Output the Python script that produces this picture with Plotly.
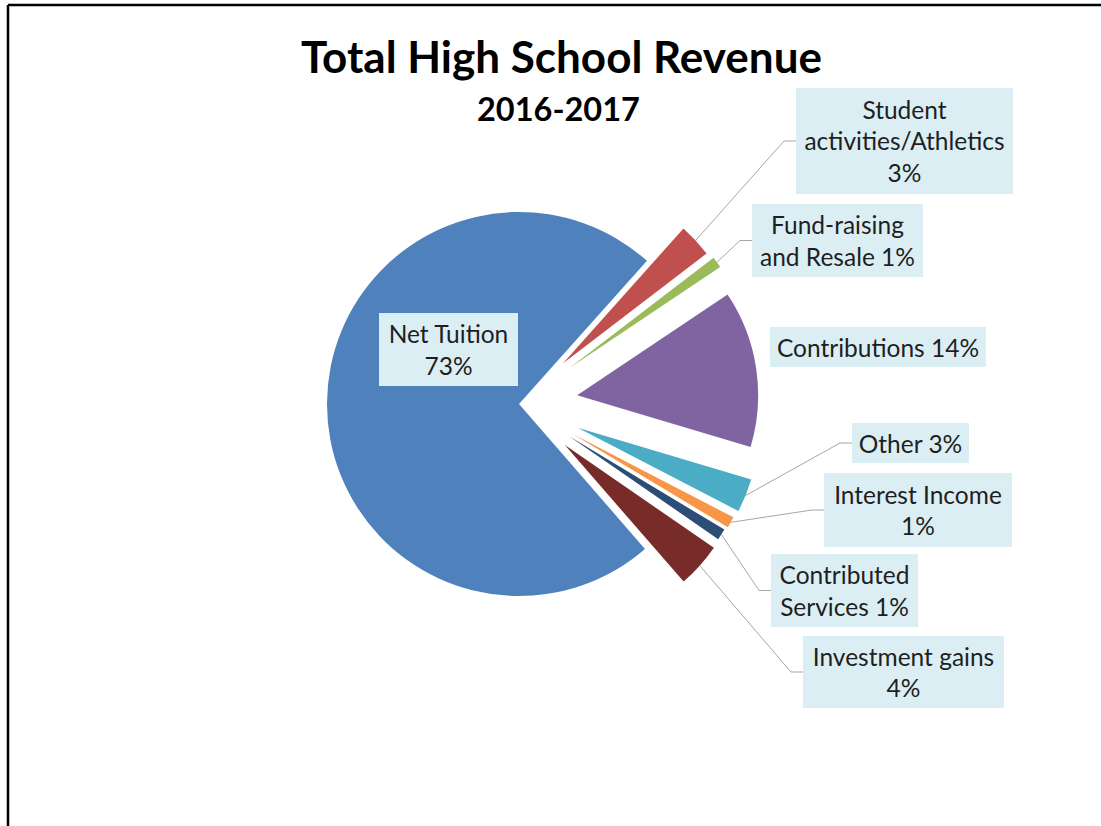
import math
import plotly.graph_objects as go

# Revenue sources, in the order the slices are laid out (clockwise)
categories = [
    "Net Tuition",
    "Student activities/Athletics",
    "Fund-raising and Resale",
    "Contributions",
    "Other",
    "Interest Income",
    "Contributed Services",
    "Investment gains",
]
percent = [73, 3, 1, 14, 3, 1, 1, 4]

# How each category name is broken across lines in its label box
label_names = [
    "Net Tuition",
    "Student<br>activities/Athletics",
    "Fund-raising<br>and Resale",
    "Contributions",
    "Other",
    "Interest Income",
    "Contributed<br>Services",
    "Investment gains",
]
label_value_sep = ["<br>", "<br>", " ", " ", " ", "<br>", " ", "<br>"]

colors = ["#4F81BD", "#C0504D", "#9BBB59", "#8064A2",
          "#4BACC6", "#F79646", "#2C4D75", "#772C2A"]
pulls = [0, 0.33, 0.345, 0.325, 0.35, 0.34, 0.33, 0.34]

# Label boxes: centre (px) and size (px); leader line drawn where wanted
label_boxes = [
    (448.5, 349.5, 139, 73, False),
    (904.5, 141.0, 217, 106, True),
    (837.5, 240.5, 171, 73, True),
    (878.0, 347.0, 216, 40, False),
    (910.5, 443.0, 117, 40, True),
    (918.0, 510.0, 188, 74, True),
    (844.5, 590.5, 147, 73, True),
    (903.5, 672.0, 201, 72, True),
]

W, H = 1101, 826
CX, CY = 519.0, 404.0          # pie centre in pixels
R_MAIN = 192.0                 # radius of the main slice
R_EXPL = 181.0                 # radius of the exploded slices
ROTATION = 139.0               # start angle of the first slice, clockwise from 12 o'clock

BOX_COLOR = "#DBEEF4"
TEXT_COLOR = "#1F1F1F"
LINE_COLOR = "#A6A6A6"
FONT = "Lato"


def px(x):
    return x / W


def py(y):
    return 1 - y / H


def pie_domain(r, max_pull):
    half = r * (1 + max_pull)
    return dict(x=[px(CX - half), px(CX + half)],
                y=[py(CY + half), py(CY - half)])


transparent = "rgba(0,0,0,0)"
main_colors = [colors[0]] + [transparent] * (len(colors) - 1)
expl_colors = [transparent] + colors[1:]

fig = go.Figure()
fig.add_trace(go.Pie(
    labels=categories, values=percent, sort=False, direction="clockwise",
    rotation=ROTATION, textinfo="none", hoverinfo="label+percent",
    marker=dict(colors=main_colors, line=dict(width=0)),
    domain=pie_domain(R_MAIN, 0), showlegend=False,
))
fig.add_trace(go.Pie(
    labels=categories, values=percent, sort=False, direction="clockwise",
    rotation=ROTATION, textinfo="none", hoverinfo="label+percent",
    pull=pulls, marker=dict(colors=expl_colors, line=dict(width=0)),
    domain=pie_domain(R_EXPL, max(pulls)), showlegend=False,
))

total = sum(percent)
annotations = []
shapes = []
cum = 0.0
for i, name in enumerate(label_names):
    mid = math.radians(ROTATION + 360.0 * (cum + percent[i] / 2.0) / total)
    cum += percent[i]
    bx, by, bw, bh, leader = label_boxes[i]
    annotations.append(dict(
        x=px(bx), y=py(by), xref="paper", yref="paper",
        xanchor="center", yanchor="middle",
        text=f"{name}{label_value_sep[i]}{percent[i]}%",
        showarrow=False, align="center", valign="middle",
        width=bw, height=bh, bgcolor=BOX_COLOR, borderpad=0, borderwidth=0,
        font=dict(family=FONT, size=24.5, color=TEXT_COLOR),
    ))
    if leader:
        dist = R_EXPL * (1 + pulls[i])
        sx = CX + dist * math.sin(mid)
        sy = CY - dist * math.cos(mid)
        left = bx - bw / 2
        path = (f"M {px(sx)},{py(sy)} L {px(left - 12)},{py(by)} "
                f"L {px(left)},{py(by)}")
        shapes.append(dict(type="path", xref="paper", yref="paper", path=path,
                           line=dict(color=LINE_COLOR, width=1)))

# Title and subtitle
annotations.append(dict(
    x=px(561.5), y=py(56), xref="paper", yref="paper",
    xanchor="center", yanchor="middle", showarrow=False,
    text="Total High School Revenue",
    font=dict(family=FONT, size=44, color="#000000", weight="bold"),
))
annotations.append(dict(
    x=px(559), y=py(108), xref="paper", yref="paper",
    xanchor="center", yanchor="middle", showarrow=False,
    text="2016-2017",
    font=dict(family=FONT, size=32.5, color="#000000", weight="bold"),
))

# Frame along the top and left edges
shapes.append(dict(type="line", xref="paper", yref="paper",
                   x0=px(8), y0=py(5), x1=1, y1=py(5),
                   line=dict(color="#000000", width=2.5)))
shapes.append(dict(type="line", xref="paper", yref="paper",
                   x0=px(8), y0=py(5), x1=px(8), y1=0,
                   line=dict(color="#000000", width=2.5)))

fig.update_layout(
    width=W, height=H,
    margin=dict(l=0, r=0, t=0, b=0),
    paper_bgcolor="#FFFFFF", plot_bgcolor="#FFFFFF",
    annotations=annotations, shapes=shapes,
)

fig.write_html("out.html")
